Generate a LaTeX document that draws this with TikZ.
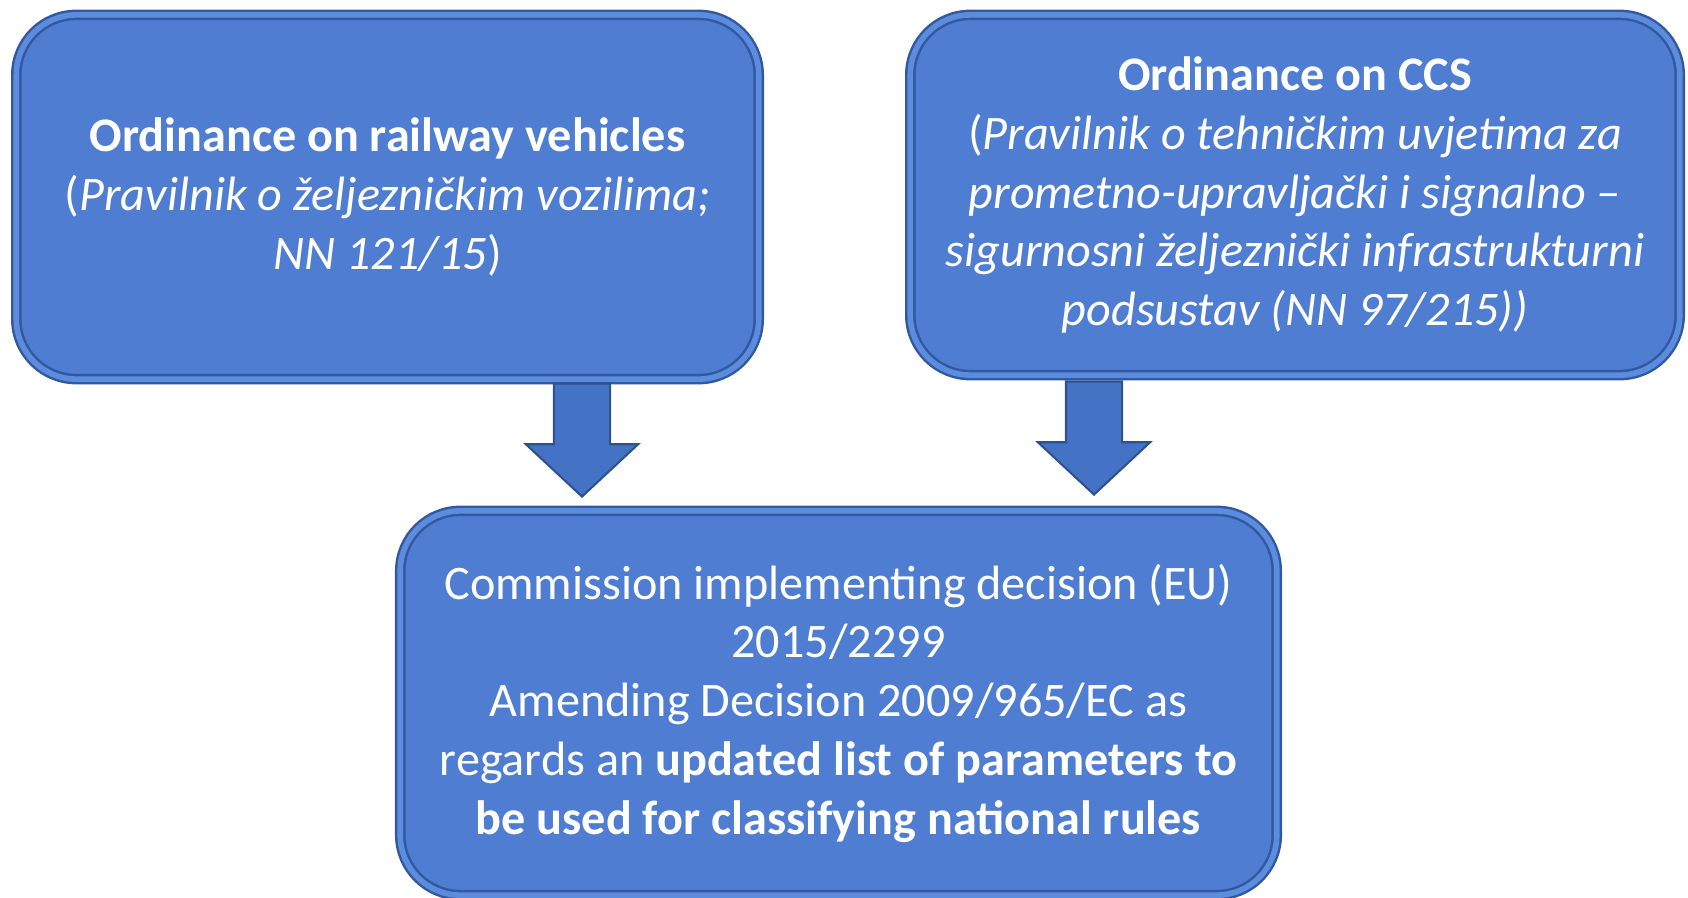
\documentclass[tikz,border=0pt]{standalone}
\usepackage{fontspec}
\setmainfont{Carlito}
\usepackage{tikz}
\usetikzlibrary{positioning,shapes.arrows}

\definecolor{boxfill}{RGB}{79,125,210}
\definecolor{boxedge}{RGB}{50,88,160}
\definecolor{boxlight}{RGB}{92,140,222}
\definecolor{arrowfill}{RGB}{68,114,196}
\definecolor{arrowedge}{RGB}{47,82,143}

\begin{document}
\begin{tikzpicture}[
    x=0.01cm, y=-0.01cm,
    box/.style={rectangle, rounded corners=0.6cm, fill=boxfill, draw=boxedge, line width=0.7pt,
        double=boxlight, double distance=1.6pt, text=white, align=center,
        font=\fontsize{13.7pt}{16.7pt}\selectfont},
    blockarrow/.style={single arrow, shape border rotate=270, fill=arrowfill, draw=arrowedge,
        line width=0.6pt, inner sep=0.27cm, minimum height=1.13cm,
        single arrow head extend=0.28cm, single arrow tip angle=94, single arrow head indent=0pt}
]
\useasboundingbox (0,0) rectangle (1688,897);

% Kutije
\node[box, minimum width=7.42cm, minimum height=3.64cm] (vehicles) at (387.5,197)
    {\textbf{Ordinance on railway vehicles}\\
     (\textit{Pravilnik o željezničkim vozilima;}\\
     \textit{NN 121/15})};
\node[box, minimum width=7.69cm, minimum height=3.60cm] (ccs) at (1295,195)
    {\textbf{Ordinance on CCS}\\
     (\textit{Pravilnik o tehničkim uvjetima za}\\
     \textit{prometno-upravljački i signalno –}\\
     \textit{sigurnosni željeznički infrastrukturni}\\
     \textit{podsustav (NN 97/215))}};
\node[box, minimum width=8.76cm, minimum height=3.84cm] (decision) at (838.5,703)
    {Commission implementing decision (EU)\\
     2015/2299\\
     Amending Decision 2009/965/EC as\\
     regards an \textbf{updated list of parameters to}\\
     \textbf{be used for classifying national rules}};

% Strelice
\node[blockarrow, anchor=tip] (arrvehicles) at (582,498) {};
\node[blockarrow, anchor=tip] (arrccs) at (1094,496) {};

\end{tikzpicture}
\end{document}
